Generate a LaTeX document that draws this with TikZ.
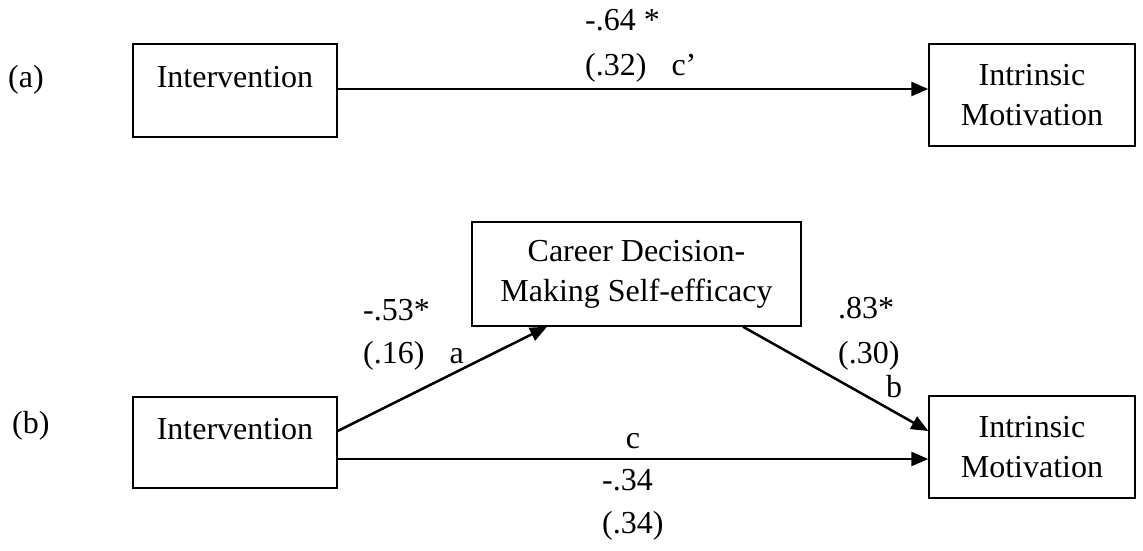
\documentclass[tikz,border=0pt]{standalone}
\usepackage{fontspec}
\setmainfont{Liberation Serif}
\usetikzlibrary{arrows.meta}
\begin{document}
\begin{tikzpicture}[x=1pt,y=-1pt,
  every node/.style={font=\fontsize{32}{40}\selectfont},
  box/.style={draw,line width=1.4pt,inner sep=0pt,align=center},
  lbl/.style={inner sep=0pt,anchor=base west},
  arr/.style={line width=2.5pt,-{Triangle[length=17pt,width=14pt]}}]
\useasboundingbox (0,0) rectangle (1143,550);
% (a)
\node[lbl] (la) at (8,87) {(a)};
\node[box,minimum width=204pt,minimum height=93pt,text height=22pt,text depth=29pt] (iA) at (235,90.5) {Intervention};
\node[box,minimum width=206pt,minimum height=102pt] (mA) at (1032,95) {Intrinsic\\Motivation};
\draw[arr] ([yshift=1.5pt]iA.east) -- ([yshift=1.5pt]iA.east -| mA.west);
\node[lbl] (cp1) at (585,30) {-.64 *};
\node[lbl] (cp2) at (585,75) {(.32)\hspace{25pt}c’};
% (b)
\node[lbl] (lb) at (12,433) {(b)};
\node[box,minimum width=204pt,minimum height=91pt,text height=22pt,text depth=29pt] (iB) at (235,442.5) {Intervention};
\node[box,minimum width=206pt,minimum height=102pt] (mB) at (1032,447) {Intrinsic\\Motivation};
\node[box,minimum width=329pt,minimum height=104pt] (med) at (636.5,274) {Career Decision-\\Making Self-efficacy};
\draw[arr] ([yshift=11.5pt]iB.east) -- ([xshift=-89.5pt]med.south);
\draw[arr] ([xshift=106.5pt]med.south) -- ([yshift=16pt]mB.west);
\draw[arr] ([yshift=-16.5pt]iB.east) -- ([yshift=-16.5pt]iB.east -| mB.west);
\node[lbl] (a1) at (363,320) {-.53*};
\node[lbl] (a2) at (363,363) {(.16)\hspace{25pt}a};
\node[lbl] (b1) at (838,318) {.83*};
\node[lbl] (b2) at (838,363) {(.30)};
\node[lbl] (b3) at (886,397) {b};
\node[inner sep=0pt,anchor=base] (c0) at (633,448) {c};
\node[lbl] (c1) at (602,490) {-.34};
\node[lbl] (c2) at (602,533) {(.34)};
\end{tikzpicture}
\end{document}
